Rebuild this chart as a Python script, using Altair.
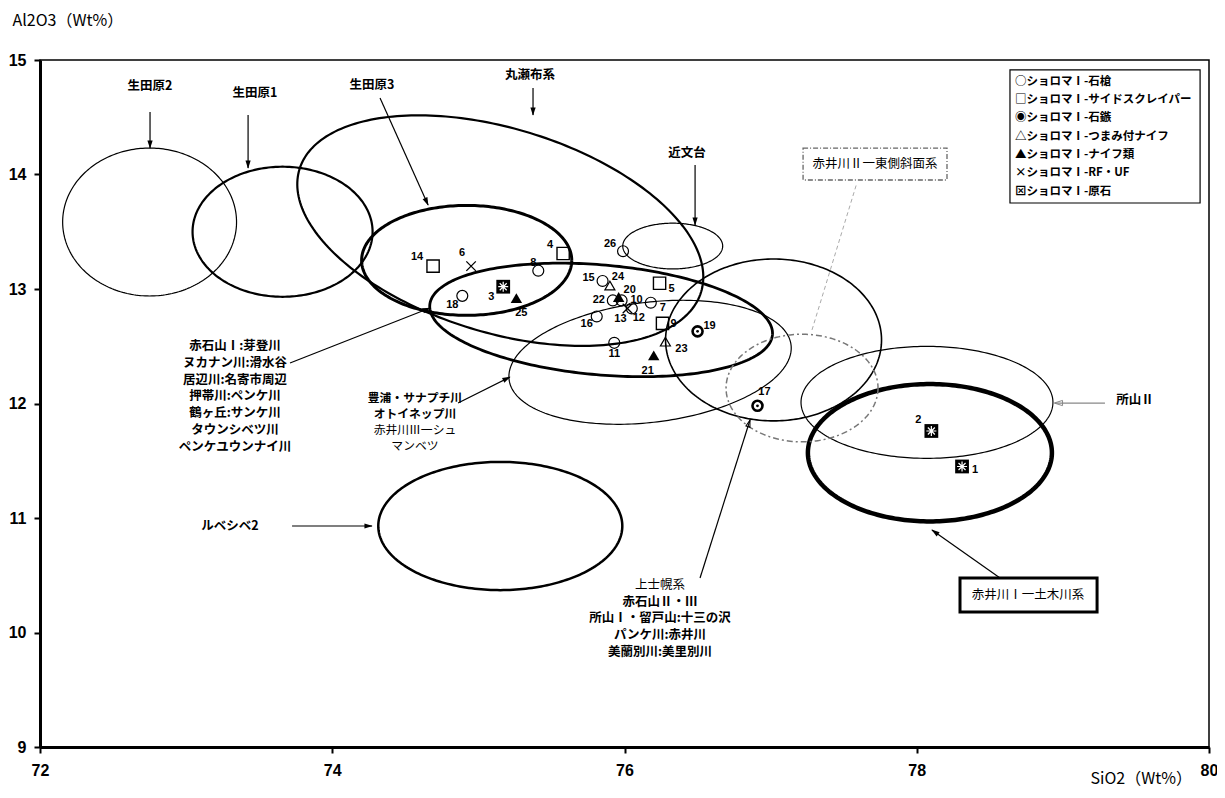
import math
import numpy as np
import pandas as pd
import altair as alt

# ---------------- data ----------------
sample_no = list(range(1, 27))
sio2 = [78.31, 78.10, 75.17, 75.58, 76.24, 74.95, 76.18, 75.41, 76.26, 75.98,
        75.93, 76.05, 76.02, 74.69, 75.85, 75.81, 76.91, 74.89, 76.50, 75.96,
        76.20, 75.92, 76.28, 75.90, 75.26, 75.99]
al2o3 = [11.45, 11.76, 13.02, 13.31, 13.05, 13.20, 12.88, 13.16, 12.70, 12.90,
         12.53, 12.83, 12.83, 13.20, 13.07, 12.76, 11.98, 12.94, 12.63, 12.93,
         12.42, 12.90, 12.54, 13.03, 12.92, 13.33]
tool = ["原石", "原石", "原石", "サイドスクレイパー", "サイドスクレイパー", "RF・UF", "石槍", "石槍",
        "サイドスクレイパー", "石槍", "石槍", "石槍", "RF・UF", "サイドスクレイパー", "石槍", "石槍",
        "石鏃", "石槍", "石鏃", "ナイフ類", "ナイフ類", "石槍", "つまみ付ナイフ", "つまみ付ナイフ",
        "ナイフ類", "石槍"]

# source-area ellipses: centre (SiO2, Al2O3), semi-axes (SiO2 units, Al2O3 units), tilt in degrees
ell_name = ["生田原2", "生田原1", "丸瀬布系", "生田原3", "赤石山Ⅰ他", "豊浦他", "近文台",
            "中央", "所山Ⅱ", "赤井川Ⅰ一土木川系", "ルベシベ2"]
ell_cx = [72.75, 73.66, 75.15, 74.92, 75.84, 76.175, 76.33, 77.02, 78.07, 78.09, 75.15]
ell_cy = [13.585, 13.50, 13.51, 13.25, 12.73, 12.36, 13.375, 12.555, 12.01, 11.57, 10.93]
ell_a = [0.595, 0.616, 1.437, 0.719, 1.177, 0.972, 0.342, 0.739, 0.862, 0.835, 0.835]
ell_b = [0.646, 0.568, 0.891, 0.480, 0.480, 0.524, 0.200, 0.707, 0.489, 0.600, 0.560]
ell_tilt = [0, 0, 17, 0, 5, -7, 0, 0, 0, 0, 0]
ell_w = [1.2, 2.2, 2.2, 3.0, 2.8, 1.2, 1.2, 1.6, 1.2, 4.5, 2.5]
dash_ell = dict(name="赤井川Ⅱ一東側斜面系", cx=77.215, cy=12.135, a=0.52, b=0.47)

legend_lines = ["○ショロマⅠ-石槍", "□ショロマⅠ-サイドスクレイパー", "◉ショロマⅠ-石鏃",
                "△ショロマⅠ-つまみ付ナイフ", "▲ショロマⅠ-ナイフ類", "×ショロマⅠ-RF・UF",
                "⊠ショロマⅠ-原石"]
akaishi_lines = ["赤石山Ⅰ:芽登川", "ヌカナン川:滑水谷", "居辺川:名寄市周辺", "押帯川:ペンケ川",
                 "鶴ヶ丘:サンケ川", "タウンシベツ川", "ペンケユウンナイ川"]
toyoura_bold = ["豊浦・サナプチ川", "オトイネップ川"]
toyoura_thin = ["赤井川Ⅲ一シュ", "マンベツ"]
kamishi_thin = ["上士幌系"]
kamishi_bold = ["赤石山Ⅱ・Ⅲ", "所山Ⅰ・留戸山:十三の沢", "パンケ川:赤井川", "美蘭別川:美里別川"]

# ---------------- layout ----------------
W, H = 1169, 687
XD, YD = [72, 80], [9, 15]
SX = W / (XD[1] - XD[0])
SY = H / (YD[1] - YD[0])

label_off = {1: (13, 4), 2: (-13, -11), 3: (-12, 10), 4: (-13, -9), 5: (12, 6), 6: (-9, -13),
             7: (12, 5), 8: (-5, -8), 9: (11, 1), 10: (15, 0), 11: (0, 11), 12: (7, 10),
             13: (-7, 11), 14: (-16, -9), 15: (-14, -3), 16: (-10, 8), 17: (7, -14), 18: (-10, 9),
             19: (12, -5), 20: (11, -7), 21: (-6, 16), 22: (-14, 0), 23: (16, 7), 24: (8, -9),
             25: (5, 15), 26: (-13, -7)}

pts = pd.DataFrame({"no": sample_no, "x": sio2, "y": al2o3, "tool": tool})
pts["lx"] = [x + label_off[n][0] / SX for n, x in zip(sample_no, sio2)]
pts["ly"] = [y - label_off[n][1] / SY for n, y in zip(sample_no, al2o3)]
pts["lab"] = pts["no"].astype(str)

xs = alt.Scale(domain=XD, nice=False, zero=False)
ys = alt.Scale(domain=YD, nice=False, zero=False)
xaxis = alt.Axis(values=[72, 74, 76, 78, 80], labelFlush=False, titleX=1050, titleY=31,
                 titleAlign="left", titleBaseline="middle")
yaxis = alt.Axis(values=[9, 10, 11, 12, 13, 14, 15], labelFlush=False, titleAngle=0,
                 titleX=-28, titleY=-40, titleAlign="left", titleBaseline="middle")
XT, YT = "SiO2（Wt%）", "Al2O3（Wt%）"


def X(f):
    return alt.X(f"{f}:Q", scale=xs, axis=xaxis, title=XT)


def Y(f):
    return alt.Y(f"{f}:Q", scale=ys, axis=yaxis, title=YT)


def ellipse_rows(name, cx, cy, a, b, tilt):
    th = math.radians(tilt)
    ap, bp = a * SX, b * SY
    out = []
    for i, t in enumerate(np.linspace(0, 2 * np.pi, 241)):
        dxp = ap * math.cos(t) * math.cos(th) - bp * math.sin(t) * math.sin(th)
        dyp = ap * math.cos(t) * math.sin(th) + bp * math.sin(t) * math.cos(th)
        out.append(dict(name=name, i=i, x=cx + dxp / SX, y=cy - dyp / SY))
    return out


rows = []
for n, cx, cy, a, b, tl, w in zip(ell_name, ell_cx, ell_cy, ell_a, ell_b, ell_tilt, ell_w):
    for r in ellipse_rows(n, cx, cy, a, b, tl):
        r["w"] = w
        rows.append(r)
ell_df = pd.DataFrame(rows)
dash_df = pd.DataFrame(ellipse_rows(dash_ell["name"], dash_ell["cx"], dash_ell["cy"],
                                    dash_ell["a"], dash_ell["b"], 0))

ell_layer = alt.Chart(ell_df).mark_line(color="black").encode(
    x=X("x"), y=Y("y"), detail="name:N", order="i:Q",
    strokeWidth=alt.StrokeWidth("w:Q", scale=None))
dash_layer = alt.Chart(dash_df).mark_line(color="#777777", strokeWidth=1.5,
                                          strokeDash=[6, 3, 2, 3]).encode(
    x=X("x"), y=Y("y"), order="i:Q")

# ---------------- annotation arrows ----------------
arrows = pd.DataFrame([
    dict(x=72.753, y=14.546, x2=72.753, y2=14.231, kind="solid"),
    dict(x=73.424, y=14.520, x2=73.424, y2=14.057, kind="solid"),
    dict(x=74.327, y=14.668, x2=74.656, y2=13.734, kind="solid"),
    dict(x=75.374, y=14.755, x2=75.374, y2=14.520, kind="solid"),
    dict(x=76.483, y=14.083, x2=76.483, y2=13.559, kind="solid"),
    dict(x=73.711, y=12.354, x2=74.669, y2=12.834, kind="solid"),
    dict(x=74.861, y=12.004, x2=75.216, y2=12.231, kind="solid"),
    dict(x=78.570, y=10.476, x2=78.104, y2=10.895, kind="solid"),
    dict(x=73.725, y=10.930, x2=74.272, y2=10.930, kind="solid"),
    dict(x=76.517, y=10.476, x2=76.859, y2=11.856, kind="open"),
    dict(x=79.288, y=12.004, x2=78.946, y2=12.004, kind="gray"),
])


def head_rows(df):
    out = []
    for r in df.itertuples():
        dxp = (r.x2 - r.x) * SX
        dyp = -(r.y2 - r.y) * SY
        L = math.hypot(dxp, dyp)
        ang = math.degrees(math.atan2(dxp, -dyp)) % 360
        hx = r.x2 - 4 * dxp / L / SX
        hy = r.y2 + 4 * dyp / L / SY
        out.append(dict(x=hx, y=hy, ang=ang, kind=r.kind))
    return pd.DataFrame(out)


heads = head_rows(arrows)
head_path = "M0,-1L0.55,0.75L-0.55,0.75Z"

rule_solid = alt.Chart(arrows).transform_filter("datum.kind != 'gray'").mark_rule(
    color="black", strokeWidth=1.2).encode(x=X("x"), y=Y("y"), x2="x2:Q", y2="y2:Q")
rule_gray = alt.Chart(arrows).transform_filter("datum.kind == 'gray'").mark_rule(
    color="#888888", strokeWidth=1.2).encode(x=X("x"), y=Y("y"), x2="x2:Q", y2="y2:Q")
leader_df = pd.DataFrame([dict(x=77.585, y=13.904, x2=77.283, y2=12.642)])
rule_dash = alt.Chart(leader_df).mark_rule(color="#aaaaaa", strokeWidth=1,
                                            strokeDash=[4, 3]).encode(
    x=X("x"), y=Y("y"), x2="x2:Q", y2="y2:Q")
head_solid = alt.Chart(heads).transform_filter("datum.kind == 'solid'").mark_point(
    shape=head_path, filled=True, color="black", size=90, opacity=1).encode(
    x=X("x"), y=Y("y"), angle=alt.Angle("ang:Q", scale=None))
head_open = alt.Chart(heads).transform_filter("datum.kind == 'open'").mark_point(
    shape=head_path, filled=False, color="black", size=60, strokeWidth=1, opacity=1).encode(
    x=X("x"), y=Y("y"), angle=alt.Angle("ang:Q", scale=None))
head_gray = alt.Chart(heads).transform_filter("datum.kind == 'gray'").mark_point(
    shape=head_path, filled=False, color="#888888", size=90, strokeWidth=1, opacity=1).encode(
    x=X("x"), y=Y("y"), angle=alt.Angle("ang:Q", scale=None))

# ---------------- boxes ----------------
boxes = pd.DataFrame([
    dict(x=78.638, x2=79.939, y=14.913, y2=13.751, kind="legend"),
    dict(x=77.222, x2=78.207, y=14.231, y2=13.952, kind="dash"),
    dict(x=78.296, x2=79.234, y=10.476, y2=10.179, kind="thick"),
])
box_legend = alt.Chart(boxes).transform_filter("datum.kind == 'legend'").mark_rect(
    fill="white", stroke="black", strokeWidth=1.2).encode(x=X("x"), x2="x2:Q", y=Y("y"), y2="y2:Q")
box_dash = alt.Chart(boxes).transform_filter("datum.kind == 'dash'").mark_rect(
    fill="white", stroke="#666666", strokeWidth=1.3, strokeDash=[5, 2, 1, 2]).encode(
    x=X("x"), x2="x2:Q", y=Y("y"), y2="y2:Q")
box_thick = alt.Chart(boxes).transform_filter("datum.kind == 'thick'").mark_rect(
    fill="white", stroke="black", strokeWidth=3).encode(x=X("x"), x2="x2:Q", y=Y("y"), y2="y2:Q")

# ---------------- points ----------------
P = alt.Chart(pts)


def pts_layer(kind, **kw):
    return P.transform_filter(alt.datum.tool == kind).mark_point(opacity=1, **kw).encode(
        x=X("x"), y=Y("y"))


cross_path = "M-1,-1L1,1M-1,1L1,-1"
aster_path = "M-1,0L1,0M0,-1L0,1M-0.7,-0.7L0.7,0.7M-0.7,0.7L0.7,-0.7"
point_layers = [
    pts_layer("石槍", shape="circle", filled=False, color="black", size=120, strokeWidth=1.2),
    pts_layer("サイドスクレイパー", shape="square", filled=False, color="black", size=150, strokeWidth=1.4),
    pts_layer("つまみ付ナイフ", shape="triangle-up", filled=False, color="black", size=100, strokeWidth=1.2),
    pts_layer("ナイフ類", shape="triangle-up", filled=True, color="black", size=130),
    pts_layer("RF・UF", shape=cross_path, filled=False, color="black", size=90, strokeWidth=1.3),
    pts_layer("石鏃", shape="circle", filled=False, color="black", size=100, strokeWidth=2.6),
    pts_layer("石鏃", shape="circle", filled=True, color="black", size=8),
    pts_layer("原石", shape="square", filled=True, color="black", size=190),
    pts_layer("原石", shape=aster_path, filled=False, color="white", size=100, strokeWidth=1.2),
]
num_layer = P.mark_text(font="Liberation Sans", fontWeight="bold", fontSize=11,
                        color="black").encode(x=X("lx"), y=Y("ly"), text="lab:N")


# ---------------- texts ----------------
def text_layer(df, size=13, weight="bold", align="center", color="black", font="Noto Sans CJK JP"):
    return alt.Chart(df).mark_text(font=font, fontSize=size, fontWeight=weight, align=align,
                                   baseline="middle", color=color).encode(
        x=X("x"), y=Y("y"), text="t:N")


def block(lines, x, y0, step_px, start=0):
    return pd.DataFrame([dict(t=s, x=x, y=y0 - (start + i) * step_px / SY)
                         for i, s in enumerate(lines)])


single_bold = pd.DataFrame([
    dict(t="生田原2", x=72.753, y=14.773),
    dict(t="生田原1", x=73.471, y=14.712),
    dict(t="生田原3", x=74.272, y=14.782),
    dict(t="丸瀬布系", x=75.353, y=14.869),
    dict(t="近文台", x=76.428, y=14.188),
    dict(t="所山Ⅱ", x=79.494, y=12.031),
    dict(t="ルベシベ2", x=73.300, y=10.930),
])
single_thin = pd.DataFrame([
    dict(t="赤井川Ⅱ一東側斜面系", x=77.714, y=14.092),
    dict(t="赤井川Ⅰ一土木川系", x=78.761, y=10.328),
])
legend_df = block(legend_lines, 78.672, 14.810, 18.33)

texts = [
    text_layer(single_bold, size=12.5),
    text_layer(single_thin, size=12.5, weight="normal"),
    text_layer(legend_df, size=11.5, align="left"),
    text_layer(block(akaishi_lines, 73.335, 12.502, 16.8), size=12.5),
    text_layer(block(toyoura_bold, 74.566, 12.048, 15.9), size=11.8),
    text_layer(block(toyoura_thin, 74.566, 12.048, 15.9, start=2), size=11.8, weight="normal"),
    text_layer(block(kamishi_thin, 76.243, 10.415, 16.7), size=12.5, weight="normal"),
    text_layer(block(kamishi_bold, 76.243, 10.415, 16.7, start=1), size=12.5),
]

chart = alt.layer(
    ell_layer, dash_layer, rule_solid, rule_gray, rule_dash, head_solid, head_open, head_gray,
    box_legend, box_dash, box_thick, *point_layers, num_layer, *texts
).properties(
    width=W, height=H, autosize=alt.AutoSizeParams(type="none"),
    padding={"left": 32, "top": 52, "right": 8, "bottom": 43},
    background="white",
).configure_axis(
    domainColor="black", domainWidth=3, tickColor="black", tickWidth=2, tickSize=6,
    labelFont="Liberation Sans", labelFontWeight="bold", labelFontSize=16, labelColor="black",
    grid=False, titleFont="Noto Sans CJK JP", titleFontWeight="normal", titleFontSize=16,
    titleColor="black",
).configure_axisX(labelPadding=9).configure_axisY(labelPadding=8).configure_view(
    stroke="black", strokeWidth=1.5)

chart.save("out.html", embed_options={"renderer": "svg", "actions": False})
